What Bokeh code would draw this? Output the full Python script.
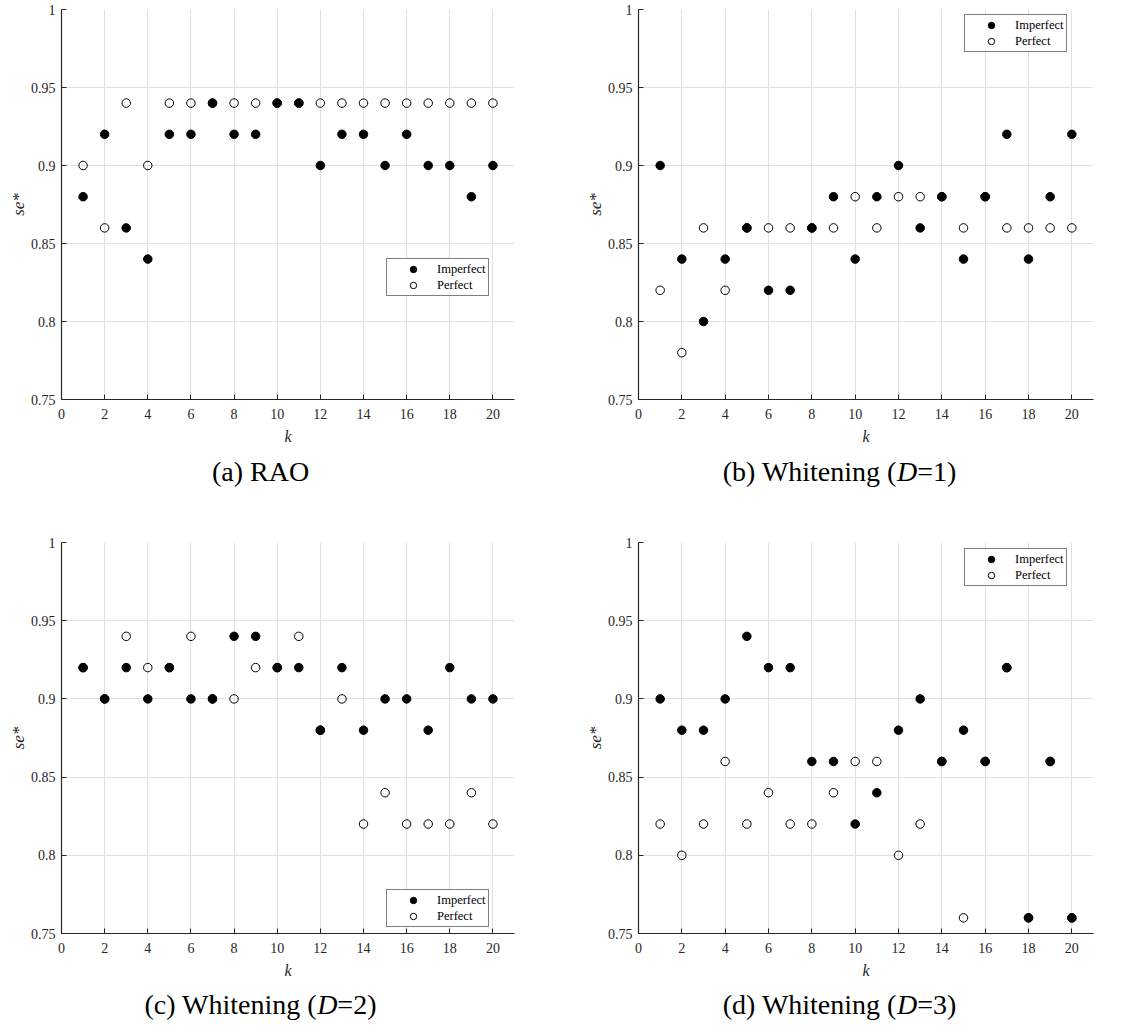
from bokeh.plotting import figure
from bokeh.layouts import column, row
from bokeh.models import FixedTicker, Label
from bokeh.embed import file_html
from bokeh.resources import INLINE

# ---- data -------------------------------------------------------------
k = list(range(1, 21))

rao_imperfect = [0.88, 0.92, 0.86, 0.84, 0.92, 0.92, 0.94, 0.92, 0.92, 0.94,
                 0.94, 0.90, 0.92, 0.92, 0.90, 0.92, 0.90, 0.90, 0.88, 0.90]
rao_perfect = [0.90, 0.86, 0.94, 0.90, 0.94, 0.94, 0.94, 0.94, 0.94, 0.94,
               0.94, 0.94, 0.94, 0.94, 0.94, 0.94, 0.94, 0.94, 0.94, 0.94]

w1_imperfect = [0.90, 0.84, 0.80, 0.84, 0.86, 0.82, 0.82, 0.86, 0.88, 0.84,
                0.88, 0.90, 0.86, 0.88, 0.84, 0.88, 0.92, 0.84, 0.88, 0.92]
w1_perfect = [0.82, 0.78, 0.86, 0.82, 0.86, 0.86, 0.86, 0.86, 0.86, 0.88,
              0.86, 0.88, 0.88, 0.88, 0.86, 0.88, 0.86, 0.86, 0.86, 0.86]

w2_imperfect = [0.92, 0.90, 0.92, 0.90, 0.92, 0.90, 0.90, 0.94, 0.94, 0.92,
                0.92, 0.88, 0.92, 0.88, 0.90, 0.90, 0.88, 0.92, 0.90, 0.90]
w2_perfect = [0.92, 0.90, 0.94, 0.92, 0.92, 0.94, 0.90, 0.90, 0.92, 0.92,
              0.94, 0.88, 0.90, 0.82, 0.84, 0.82, 0.82, 0.82, 0.84, 0.82]

w3_imperfect = [0.90, 0.88, 0.88, 0.90, 0.94, 0.92, 0.92, 0.86, 0.86, 0.82,
                0.84, 0.88, 0.90, 0.86, 0.88, 0.86, 0.92, 0.76, 0.86, 0.76]
w3_perfect = [0.82, 0.80, 0.82, 0.86, 0.82, 0.84, 0.82, 0.82, 0.84, 0.86,
              0.86, 0.80, 0.82, 0.86, 0.76, 0.86, 0.92, 0.76, 0.86, 0.76]

x_ticks = [0, 2, 4, 6, 8, 10, 12, 14, 16, 18, 20]
x_tick_labels = ["0", "2", "4", "6", "8", "10", "12", "14", "16", "18", "20"]
y_ticks = [0.75, 0.8, 0.85, 0.9, 0.95, 1.0]
y_tick_labels = ["0.75", "0.8", "0.85", "0.9", "0.95", "1"]

series_names = ["Imperfect", "Perfect"]
x_label = "k"
y_label = "se*"

# caption pieces: (upright prefix, italic part, upright suffix)
captions = [
    ("(a) RAO", "", ""),
    ("(b) Whitening (", "D", "=1)"),
    ("(c) Whitening (", "D", "=2)"),
    ("(d) Whitening (", "D", "=3)"),
]

# ---- styling ----------------------------------------------------------
SERIF = "Liberation Serif"
AXIS_COLOR = "#262626"
GRID_COLOR = "#e1e1e1"
X_MIN, X_MAX = 0, 21
Y_MIN, Y_MAX = 0.75, 1.0
CAPTION_SIZE = 28


def text_width(s, size):
    # approximate Times-metric advance widths (em units)
    widths = {"(": 0.333, ")": 0.333, " ": 0.25, "W": 0.944, "h": 0.5, "i": 0.278,
              "t": 0.278, "e": 0.444, "n": 0.5, "g": 0.5, "=": 0.564, "D": 0.722,
              "a": 0.444, "b": 0.5, "c": 0.444, "d": 0.5, "R": 0.667, "A": 0.722,
              "O": 0.722}
    return sum(widths.get(ch, 0.5) for ch in s) * size


def make_plot(imp, perf, geom):
    width, height, left, right, top, bottom, leg_loc = geom
    p = figure(width=width, height=height, x_range=(X_MIN, X_MAX),
               y_range=(Y_MIN, Y_MAX), output_backend="svg",
               toolbar_location=None, tools="",
               min_border_left=left, min_border_right=right,
               min_border_top=top, min_border_bottom=bottom)
    p.outline_line_color = None
    p.background_fill_color = "white"
    p.border_fill_color = "white"

    for ax, ticks, labels in ((p.xaxis[0], x_ticks, x_tick_labels),
                              (p.yaxis[0], y_ticks, y_tick_labels)):
        ax.ticker = FixedTicker(ticks=ticks)
        ax.major_label_overrides = dict(zip(ticks, labels))
        ax.axis_line_color = AXIS_COLOR
        ax.axis_line_width = 1.2
        ax.major_tick_line_color = AXIS_COLOR
        ax.major_tick_in = 5
        ax.major_tick_out = 0
        ax.minor_tick_line_color = None
        ax.major_label_text_font = SERIF
        ax.major_label_text_font_size = "14px"
        ax.major_label_text_color = AXIS_COLOR
        ax.axis_label_text_font = SERIF
        ax.axis_label_text_font_style = "italic"
        ax.axis_label_text_color = AXIS_COLOR
    p.xaxis[0].major_label_standoff = 9
    p.yaxis[0].major_label_standoff = 6
    p.xaxis[0].axis_label = x_label
    p.xaxis[0].axis_label_text_font_size = "16px"
    p.xaxis[0].axis_label_standoff = 6
    p.yaxis[0].axis_label = y_label
    p.yaxis[0].axis_label_text_font_size = "17px"
    p.yaxis[0].axis_label_standoff = 0

    p.xgrid.ticker = FixedTicker(ticks=x_ticks)
    p.ygrid.ticker = FixedTicker(ticks=y_ticks)
    p.grid.grid_line_color = GRID_COLOR
    p.grid.grid_line_width = 1

    p.scatter(k, imp, size=8.5, marker="circle", fill_color="black",
              line_color="black", legend_label=series_names[0])
    p.scatter(k, perf, size=8.5, marker="circle", fill_color=None,
              line_color="black", line_width=1, legend_label=series_names[1])

    leg = p.legend[0]
    leg.location = leg_loc
    leg.margin = 0
    leg.padding = 2
    leg.spacing = 0
    leg.glyph_width = 48
    leg.glyph_height = 16
    leg.label_height = 16
    leg.label_standoff = 0
    leg.label_text_font = SERIF
    leg.label_text_font_size = "12.5px"
    leg.label_text_color = "black"
    leg.border_line_color = "black"
    leg.border_line_width = 1
    leg.background_fill_color = "white"
    leg.background_fill_alpha = 1
    return p


def make_caption(caption, width, height, left, right, cx, cy_from_top):
    # the caption strip shares the plot's horizontal borders, so its
    # x coordinates are pixels measured from the plot frame's left edge
    fw = width - left - right
    c = figure(width=width, height=height, x_range=(0, fw), y_range=(0, height),
               output_backend="svg", toolbar_location=None, tools="",
               min_border_left=left, min_border_right=right,
               min_border_top=0, min_border_bottom=0, outline_line_color=None)
    c.axis.visible = False
    c.grid.visible = False
    c.background_fill_color = "white"
    c.border_fill_color = "white"
    pre, ital, post = caption
    w_pre = text_width(pre, CAPTION_SIZE)
    w_it = text_width(ital, CAPTION_SIZE)
    w_post = text_width(post, CAPTION_SIZE)
    x0 = (cx - left) - (w_pre + w_it + w_post) / 2
    cy = height - cy_from_top
    for txt, style, off in ((pre, "normal", 0), (ital, "italic", w_pre),
                            (post, "normal", w_pre + w_it)):
        if not txt:
            continue
        c.add_layout(Label(x=x0 + off, y=cy, text=txt, text_font=SERIF,
                           text_font_style=style,
                           text_font_size=f"{CAPTION_SIZE}px", text_color="black",
                           text_align="left", text_baseline="middle"))
    return c


# width, plot height, borders (l, r, t, b), legend position
plot_geoms = [
    (570, 450, 61, 56, 9, 51, (325, 103)),
    (569, 450, 68, 46, 9, 51, (326, 347)),
    (570, 477, 61, 56, 32, 54, (325, 6)),
    (569, 477, 68, 46, 32, 54, (326, 347)),
]
# caption strip: height, centre x (from figure left), centre y from its top
caption_geoms = [
    (60, 260, 21),
    (60, 269, 21),
    (45, 260, 17),
    (45, 269, 17),
]
data = [(rao_imperfect, rao_perfect), (w1_imperfect, w1_perfect),
        (w2_imperfect, w2_perfect), (w3_imperfect, w3_perfect)]

cells = []
for (imp, perf), cap, pg, cg in zip(data, captions, plot_geoms, caption_geoms):
    plot = make_plot(imp, perf, pg)
    cap_fig = make_caption(cap, pg[0], cg[0], pg[2], pg[3], cg[1], cg[2])
    cells.append(column(plot, cap_fig, spacing=0))

layout = column(row(cells[0], cells[1], spacing=0),
                row(cells[2], cells[3], spacing=0), spacing=0)

with open("out.html", "w") as f:
    f.write(file_html(layout, INLINE))
